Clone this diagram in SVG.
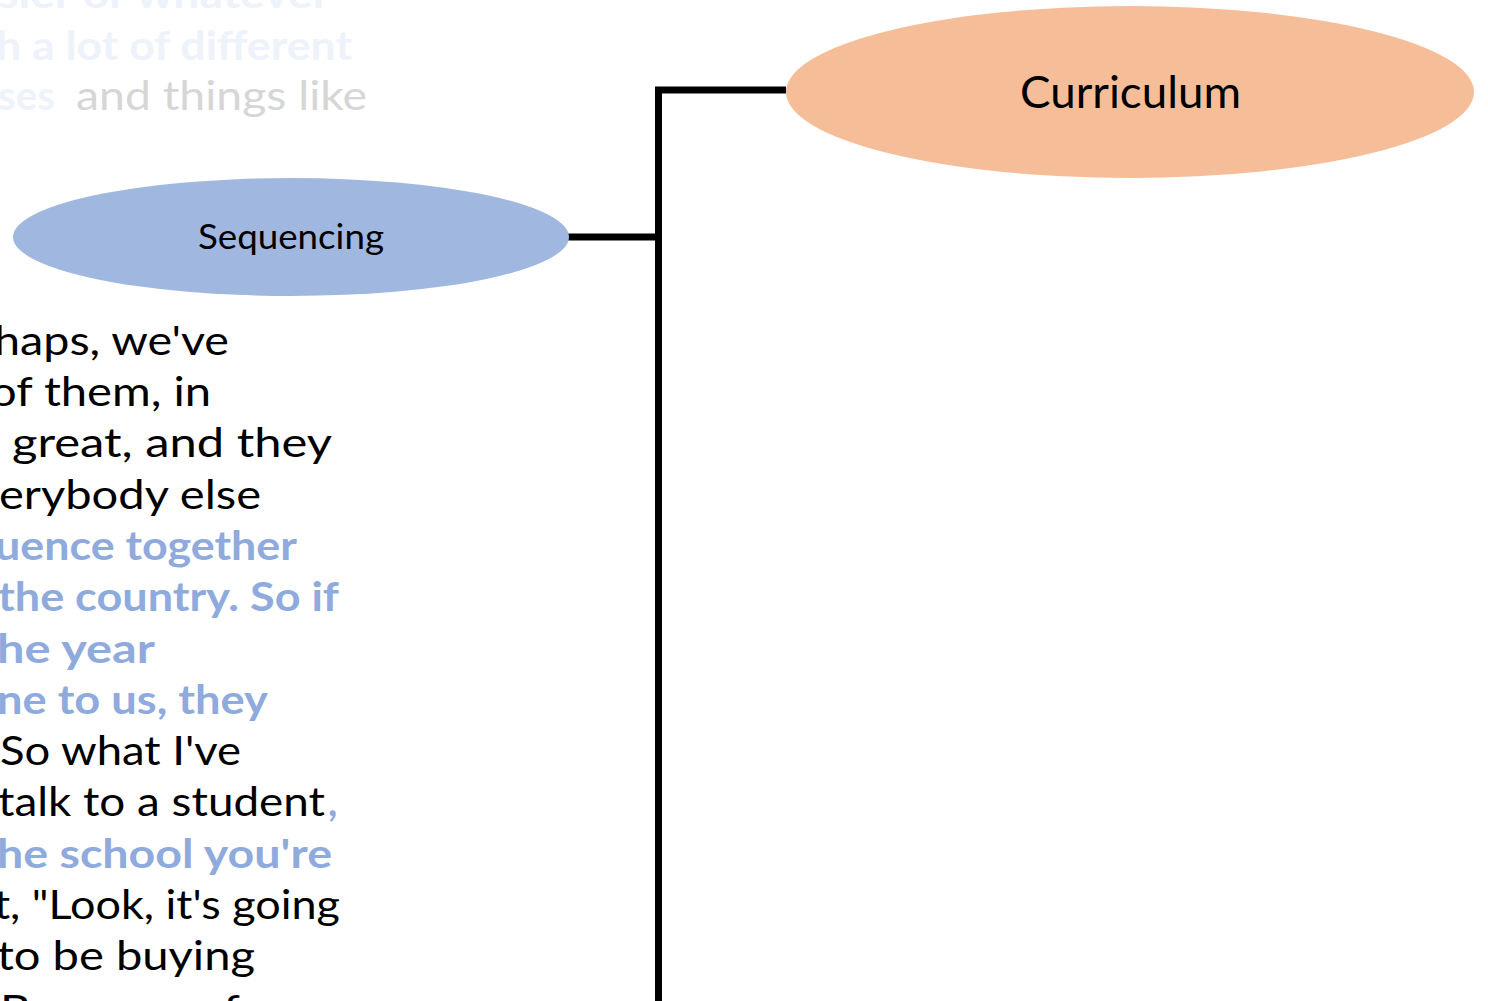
<svg xmlns="http://www.w3.org/2000/svg" width="1488" height="1001" viewBox="0 0 1488 1001">
<style>
.t{font-family:"Lato","Liberation Sans",sans-serif;font-size:40px}
.k{fill:#000}
.b{fill:#8FAADC;font-weight:bold}
.fb{fill:#EEF2FA;font-weight:bold}
.fg{fill:#D6D6D6}
.lbl{font-family:"Lato","Liberation Sans",sans-serif;fill:#000}
.conn{stroke:#000;stroke-width:7;fill:none}
</style>
<rect width="1488" height="1001" fill="#fff"/>
<g id="background-text" class="t">
<text class="fb" x="-2" y="8" textLength="332" lengthAdjust="spacingAndGlyphs">sier or whatever</text>
<text class="fb" x="-4" y="60" textLength="356" lengthAdjust="spacingAndGlyphs">h a lot of different</text>
<text class="fb" x="-2" y="110" textLength="57" lengthAdjust="spacingAndGlyphs">ses</text>
<text class="fg" x="76" y="110" textLength="291" lengthAdjust="spacingAndGlyphs">and things like</text>
<text class="k" x="-6" y="355" textLength="235" lengthAdjust="spacingAndGlyphs">haps, we've</text>
<text class="k" x="-10" y="406" textLength="221" lengthAdjust="spacingAndGlyphs">of them, in</text>
<text class="k" x="12" y="457" textLength="320" lengthAdjust="spacingAndGlyphs">great, and they</text>
<text class="k" x="-1" y="509" textLength="262" lengthAdjust="spacingAndGlyphs">erybody else</text>
<text class="b" x="-5" y="560" textLength="302" lengthAdjust="spacingAndGlyphs">uence together</text>
<text class="b" x="-2" y="611" textLength="341" lengthAdjust="spacingAndGlyphs">the country. So if</text>
<text class="b" x="-3" y="663" textLength="158" lengthAdjust="spacingAndGlyphs">he year</text>
<text class="b" x="-3" y="714" textLength="271" lengthAdjust="spacingAndGlyphs">ne to us, they</text>
<text class="k" x="0" y="765" textLength="241" lengthAdjust="spacingAndGlyphs">So what I've</text>
<text class="k" x="-2" y="816" textLength="327" lengthAdjust="spacingAndGlyphs">talk to a student</text>
<text class="b" x="328" y="816">,</text>
<text class="b" x="-3" y="868" textLength="335" lengthAdjust="spacingAndGlyphs">he school you're</text>
<text class="k" x="-6" y="919" textLength="346" lengthAdjust="spacingAndGlyphs">t, "Look, it's going</text>
<text class="k" x="-3" y="970" textLength="258" lengthAdjust="spacingAndGlyphs">to be buying</text>
<text class="k" x="0" y="1024" textLength="240" lengthAdjust="spacingAndGlyphs">Because, of</text>
</g>
<g id="connectors">
<path class="conn" d="M658.5 1001 V90 H786"/>
<path class="conn" d="M565 237 H658.5"/>
</g>
<g id="node-curriculum">
<ellipse cx="1130" cy="92" rx="344" ry="86" fill="#F5BE98"/>
<text class="lbl" x="1020" y="108" font-size="44" textLength="221" lengthAdjust="spacingAndGlyphs">Curriculum</text>
</g>
<g id="node-sequencing">
<ellipse cx="291" cy="237" rx="278" ry="59" fill="#A0B8E0"/>
<text class="lbl" x="198" y="249" font-size="34" textLength="186" lengthAdjust="spacingAndGlyphs">Sequencing</text>
</g>
</svg>
